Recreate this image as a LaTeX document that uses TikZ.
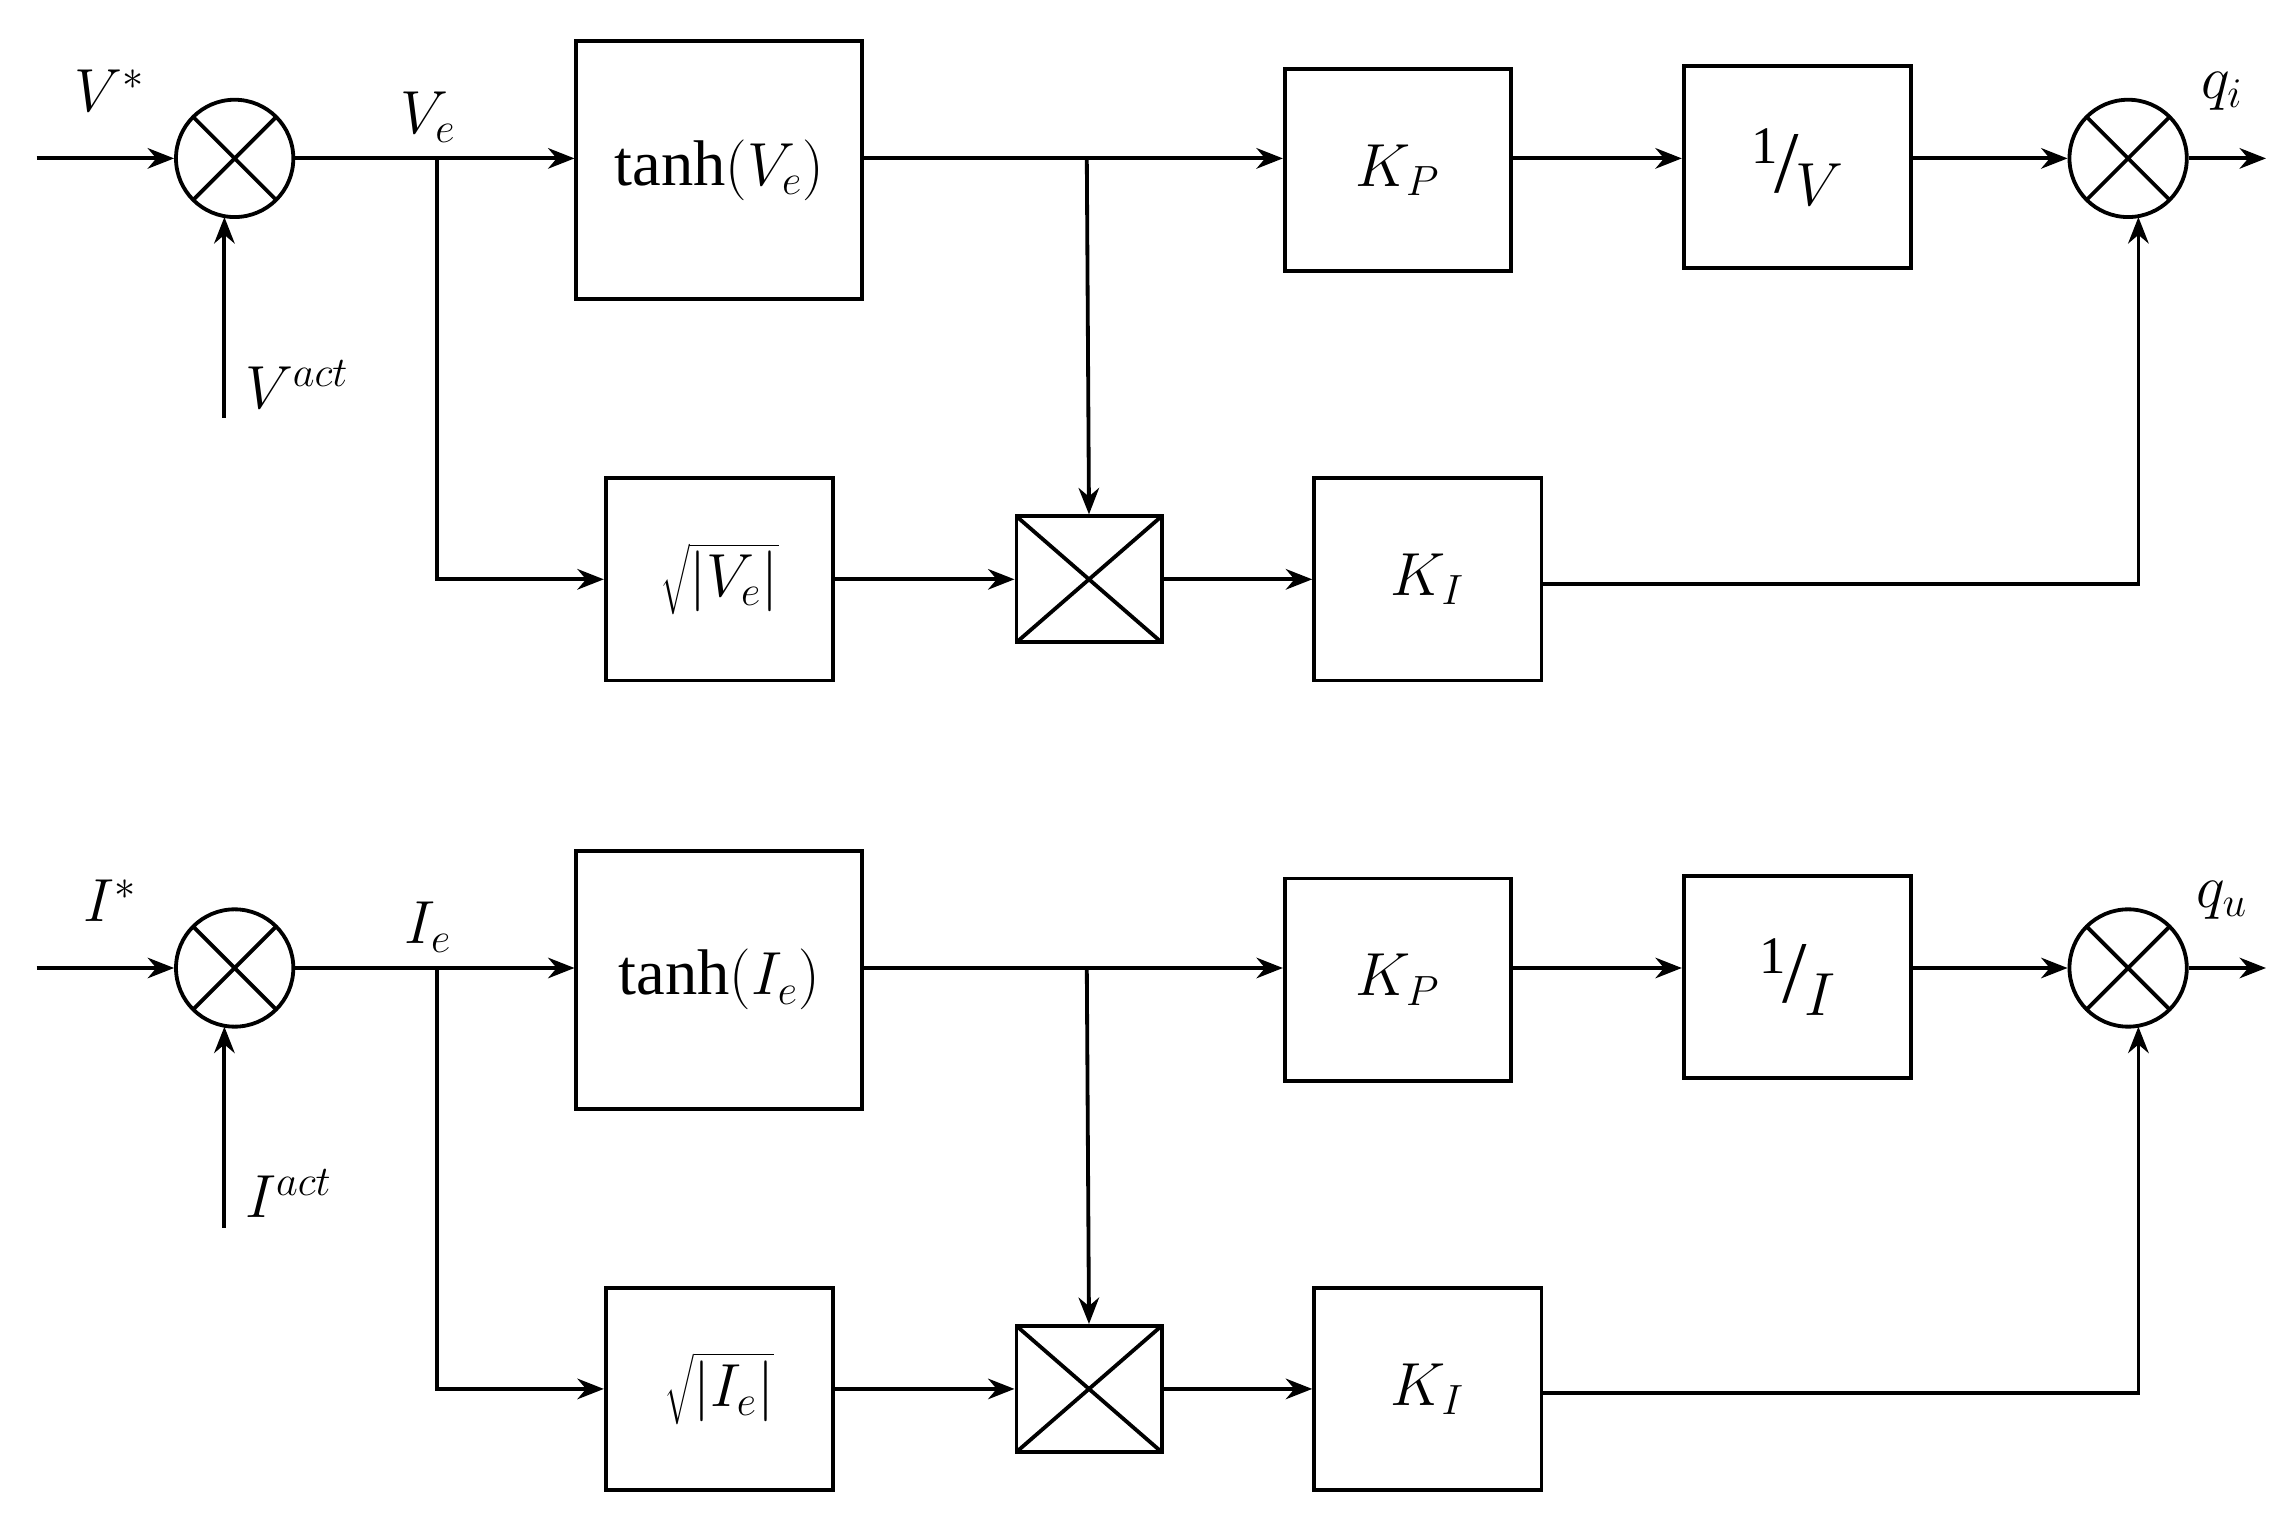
\documentclass[tikz,border=0pt]{standalone}
\usepackage{fontspec}
\setmainfont{Liberation Serif}
\usetikzlibrary{arrows.meta}
\newcommand{\myinv}[1]{\raisebox{0.45em}{\fontsize{18}{20}\selectfont 1}\kern-0.05em{\fontsize{30}{30}\selectfont /}\kern-0.05em\raisebox{-0.2em}{\fontsize{20}{22}\selectfont$#1$}}
\begin{document}
\begin{tikzpicture}[x=0.5pt,y=-0.5pt,
  box/.style={draw,line width=1.3pt,inner sep=0pt,font=\fontsize{22}{26}\selectfont},
  sum/.style={draw,line width=1.3pt,circle,minimum size=40pt,inner sep=0pt,
    path picture={\draw[line width=1.3pt] (path picture bounding box.south west)--(path picture bounding box.north east)
      (path picture bounding box.north west)--(path picture bounding box.south east);}},
  mul/.style={draw,line width=1.3pt,minimum width=49.5pt,minimum height=43pt,inner sep=0pt,
    path picture={\draw[line width=1.3pt] (path picture bounding box.south west)--(path picture bounding box.north east)
      (path picture bounding box.north west)--(path picture bounding box.south east);}},
  ar/.style={line width=1.3pt,-{Stealth[length=9pt,width=7pt]}},
  ln/.style={line width=1.3pt},
  lab/.style={font=\fontsize{21}{24}\selectfont}]
\useasboundingbox (0,0) rectangle (1560,1037);
\foreach \r/\v/\q/\sq/\inv/\act/\err in {0/V^*/q_i/V_e/V/V^{act}/V_e, 552/I^*/q_u/I_e/I/I^{act}/I_e}{
\begin{scope}[yshift=-\r*0.5pt]
\coordinate (in\r) at (25,108);
\node[sum] (s\r) at (160,108) {};
\coordinate (act\r) at (153,285);
\node[box,minimum width=97.5pt,minimum height=88pt] (t\r) at (490.5,116) {$\mathrm{tanh}(\err)$};
\node[box,minimum width=77pt,minimum height=69pt] (kp\r) at (953,116) {$K_P$};
\node[box,minimum width=77.5pt,minimum height=69pt] (iv\r) at (1225.5,114) {\myinv{\inv}};
\node[sum] (o\r) at (1451,108) {};
\coordinate (out\r) at (1545,108);
\node[box,minimum width=77.5pt,minimum height=69pt] (sq\r) at (490.5,395) {$\sqrt{|\sq|}$};
\node[mul] (m\r) at (742.5,395) {};
\node[box,minimum width=77.5pt,minimum height=69pt] (ki\r) at (973.5,395) {$K_I$};
\coordinate (b1\r) at (298,108);
\coordinate (b2\r) at (741,108);
\draw[ar] (in\r) -- (s\r.west);
\draw[ar] (act\r) -- (153,148);
\draw[ar] (s\r.east) -- (t\r.west|-s\r);
\draw[ln] (b1\r) |- (350,395);
\draw[ar] (350,395) -- (sq\r.west);
\draw[ar] (t\r.east|-s\r) -- (kp\r.west|-s\r);
\draw[ar] (b2\r) -- (m\r.north);
\draw[ar] (kp\r.east|-s\r) -- (iv\r.west|-s\r);
\draw[ar] (iv\r.east|-s\r) -- (o\r.west);
\draw[ar] (o\r.east) -- (out\r);
\draw[ar] (sq\r.east) -- (m\r.west);
\draw[ar] (m\r.east) -- (ki\r.west);
\draw[ar] (ki\r.east|-0,398) -| (1458,148);
\node[lab] at (75,62) {$\v$};
\node[lab,anchor=west] at (160,262) {$\act$};
\node[lab] at (292,80) {$\sq$};
\node[lab] at (1515,62) {$\q$};
\end{scope}}
\end{tikzpicture}
\end{document}
